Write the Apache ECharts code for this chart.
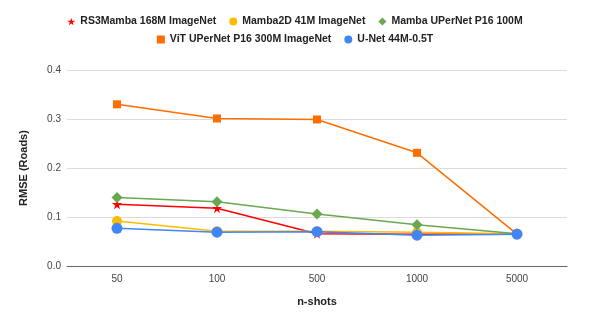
<!DOCTYPE html>
<html><head><meta charset="utf-8">
<script src="https://cdn.jsdelivr.net/npm/echarts@6/dist/echarts.min.js"></script>
<style>html,body{margin:0;padding:0;background:#fff}#c{width:590px;height:320px}</style>
</head><body><div id="c"></div>
<script>
const categories = ['50', '100', '500', '1000', '5000'];
const rs3mamba = [0.126, 0.118, 0.066, 0.065, 0.066];
const mamba2d = [0.092, 0.071, 0.071, 0.069, 0.066];
const mambaUper = [0.140, 0.131, 0.106, 0.084, 0.066];
const vitUper = [0.330, 0.301, 0.299, 0.231, 0.065];
const unet = [0.077, 0.069, 0.070, 0.063, 0.065];
const yTicks = [0, 0.1, 0.2, 0.3, 0.4];

const font = 'Liberation Sans, Arial, sans-serif';
const star = 'path://M50,0 L61,35 L98,35 L68,57 L79,91 L50,70 L21,91 L32,57 L2,35 L39,35 Z';
function mk(name, data, color, symbol, size) {
  return { name, type: 'line', data, symbol, symbolSize: size,
    lineStyle: { color, width: 1.5 }, itemStyle: { color },
    showSymbol: true, animation: false };
}
const legTxt = { fontFamily: font, fontWeight: 'bold', fontSize: 10.5, color: '#222' };
const chart = echarts.init(document.getElementById('c'));
chart.setOption({
  animation: false,
  textStyle: { fontFamily: font },
  legend: [
    { top: 11, left: 'center', itemGap: 13, itemWidth: 8, itemHeight: 8, textStyle: legTxt,
      data: [
        { name: 'RS3Mamba 168M ImageNet', icon: star },
        { name: 'Mamba2D 41M ImageNet', icon: 'circle' },
        { name: 'Mamba UPerNet P16 100M', icon: 'diamond' }
      ] },
    { top: 29, left: 'center', itemGap: 13, itemWidth: 8, itemHeight: 8, textStyle: legTxt,
      data: [
        { name: 'ViT UPerNet P16 300M ImageNet', icon: 'rect' },
        { name: 'U-Net 44M-0.5T', icon: 'circle' }
      ] }
  ],
  grid: { left: 67, right: 23, top: 70, bottom: 54 },
  xAxis: {
    type: 'category', data: categories, boundaryGap: true,
    name: 'n-shots', nameLocation: 'middle', nameGap: 30,
    nameTextStyle: { fontFamily: font, fontWeight: 'bold', fontSize: 11, color: '#222' },
    axisLine: { lineStyle: { color: '#666', width: 1 } },
    axisTick: { show: false },
    axisLabel: { fontSize: 10, color: '#444', margin: 8, fontFamily: font }
  },
  yAxis: {
    type: 'value', min: 0, max: 0.4, interval: 0.1,
    name: 'RMSE (Roads)', nameLocation: 'middle', nameGap: 38,
    nameTextStyle: { fontFamily: font, fontWeight: 'bold', fontSize: 11, color: '#222' },
    axisLine: { show: false }, axisTick: { show: false },
    splitLine: { lineStyle: { color: '#dcdcdc', width: 1 } },
    axisLabel: { fontSize: 10, color: '#444', margin: 6, fontFamily: font,
      formatter: v => yTicks.includes(Math.round(v*10)/10) ? v.toFixed(1) : '' }
  },
  series: [
    mk('RS3Mamba 168M ImageNet', rs3mamba, '#ff0000', star, 10),
    mk('Mamba2D 41M ImageNet', mamba2d, '#fbbc04', 'circle', 10),
    mk('Mamba UPerNet P16 100M', mambaUper, '#6aa84f', 'diamond', 11),
    mk('ViT UPerNet P16 300M ImageNet', vitUper, '#ff6d01', 'rect', 8),
    mk('U-Net 44M-0.5T', unet, '#4285f4', 'circle', 11)
  ]
});
</script></body></html>
